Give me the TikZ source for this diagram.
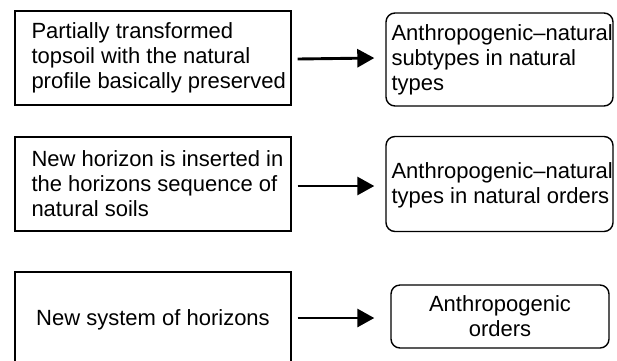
\documentclass[tikz,border=0pt]{standalone}
\usepackage{fontspec}
\setmainfont{Liberation Sans}
\usetikzlibrary{arrows.meta}
\begin{document}
\begin{tikzpicture}[x=1pt,y=1pt,
  every node/.style={font=\fontsize{22}{25}\selectfont},
  plainbox/.style={draw=black, line width=1.4pt, inner sep=0pt},
  roundbox/.style={draw=black, line width=1.4pt, rounded corners=9pt, inner sep=0pt},
  txt/.style={inner sep=0pt, align=left, anchor=west},
  conn/.style={line width=2.9pt, -{Triangle[length=17pt,width=18pt]}}]
\useasboundingbox (0,0) rectangle (617,-360);
\clip (0,0) rectangle (617,-360);
\fill[white] (0,0) rectangle (617,-360);

% source boxes
\node[plainbox, minimum width=276pt, minimum height=94pt] (b1) at (153,-58) {};
\node[plainbox, minimum width=276pt, minimum height=94pt] (b2) at (153,-184) {};
\node[plainbox, minimum width=276pt, minimum height=96pt, align=center] (b3) at (153,-320) {New system of horizons};

% resulting categories
\node[roundbox, minimum width=227pt, minimum height=93pt] (r1) at (499.5,-59.5) {};
\node[roundbox, minimum width=227pt, minimum height=95pt] (r2) at (499.5,-184) {};
\node[roundbox, minimum width=218pt, minimum height=63pt, align=center] (r3) at (500,-316.5) {Anthropogenic\\orders};

% box texts
\node[txt] (t1) at ([xshift=17pt]b1.west) {Partially transformed\\topsoil with the natural\\profile basically preserved};
\node[txt] (t2) at ([xshift=17pt]b2.west) {New horizon is inserted in\\the horizons sequence of\\natural soils};
\node[txt] (u1) at ([xshift=6pt]r1.west) {Anthropogenic\textendash natural\\subtypes in natural\\types};
\node[txt] (u2) at ([xshift=6pt,yshift=-1pt]r2.west) {Anthropogenic\textendash natural\\types in natural orders};

% connectors
\draw[conn] ([xshift=6pt,yshift=-1pt]b1.east) -- ([xshift=-11pt]b1.east -| r1.west);
\draw[conn] ([xshift=6pt,yshift=-2pt]b2.east) -- ([xshift=-11pt,yshift=-2pt]b2.east -| r2.west);
\draw[conn] ([xshift=6pt,yshift=2pt]b3.east) -- ([xshift=-16pt,yshift=2pt]b3.east -| r3.west);
\end{tikzpicture}
\end{document}
